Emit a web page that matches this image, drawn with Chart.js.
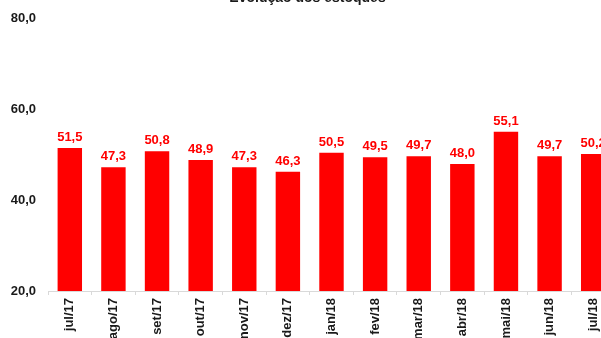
<!DOCTYPE html>
<html>
<head>
<meta charset="utf-8">
<script src="https://cdn.jsdelivr.net/npm/chart.js@4/dist/chart.umd.min.js"></script>
<style>
  html, body { margin: 0; padding: 0; background: #fff; overflow: hidden; }
  #wrap { position: relative; width: 601px; height: 338px; overflow: hidden; }
  #myChart { position: absolute; left: 0; top: -12px; }
</style>
</head>
<body>
<div id="wrap"><canvas id="myChart" width="620" height="370"></canvas></div>
<script>
// Data
const months = ['jul/17', 'ago/17', 'set/17', 'out/17', 'nov/17', 'dez/17', 'jan/18',
                'fev/18', 'mar/18', 'abr/18', 'mai/18', 'jun/18', 'jul/18'];
const stocks = [51.5, 47.3, 50.8, 48.9, 47.3, 46.3, 50.5, 49.5, 49.7, 48.0, 55.1, 49.7, 50.2];
const yTicks = [20, 40, 60, 80];

const font = "'Liberation Sans', Arial, sans-serif";
const fmt = v => v.toFixed(1).replace('.', ',');

// Red value labels above the bars
const barLabels = {
    id: 'barLabels',
    afterDatasetsDraw(chart) {
        const ctx = chart.ctx;
        const meta = chart.getDatasetMeta(0);
        ctx.save();
        ctx.font = 'bold 13px ' + font;
        ctx.fillStyle = '#ff0000';
        ctx.textAlign = 'center';
        ctx.textBaseline = 'alphabetic';
        meta.data.forEach((bar, i) => {
            ctx.fillText(fmt(stocks[i]), bar.x, bar.y - 7);
        });
        ctx.restore();
    }
};

const ctx = document.getElementById('myChart').getContext('2d');
const chart = new Chart(ctx, {
    type: 'bar',
    data: {
        labels: months,
        datasets: [{
            data: stocks,
            backgroundColor: '#ff0000',
            borderWidth: 0,
            barPercentage: 0.56,
            categoryPercentage: 1
        }]
    },
    options: {
        responsive: false,
        animation: false,
        layout: { padding: { left: 0, right: 5, top: 0, bottom: 0 } },
        plugins: {
            legend: { display: false },
            tooltip: { enabled: false },
            title: {
                display: true,
                text: 'Evolução dos estoques',
                color: '#1a1a1a',
                font: { family: font, size: 14, weight: 'bold' },
                padding: { top: 2, bottom: 12 }
            }
        },
        scales: {
            x: {
                grid: {
                    drawOnChartArea: false,
                    drawTicks: true,
                    tickLength: 4,
                    color: '#d9d9d9'
                },
                border: { display: true, color: '#d9d9d9' },
                ticks: {
                    minRotation: 90,
                    maxRotation: 90,
                    padding: 3,
                    color: '#1a1a1a',
                    font: { family: font, size: 13, weight: 'bold' }
                },
                afterFit: axis => { axis.height = 67; }
            },
            y: {
                min: 20,
                max: 80,
                grid: { display: false },
                border: { display: false },
                afterBuildTicks: axis => { axis.ticks = yTicks.map(v => ({ value: v })); },
                ticks: {
                    padding: 4,
                    color: '#1a1a1a',
                    font: { family: font, size: 13, weight: 'bold' },
                    callback: v => fmt(v)
                },
                afterFit: axis => { axis.width = 48; }
            }
        }
    },
    plugins: [barLabels]
});
</script>
</body>
</html>
